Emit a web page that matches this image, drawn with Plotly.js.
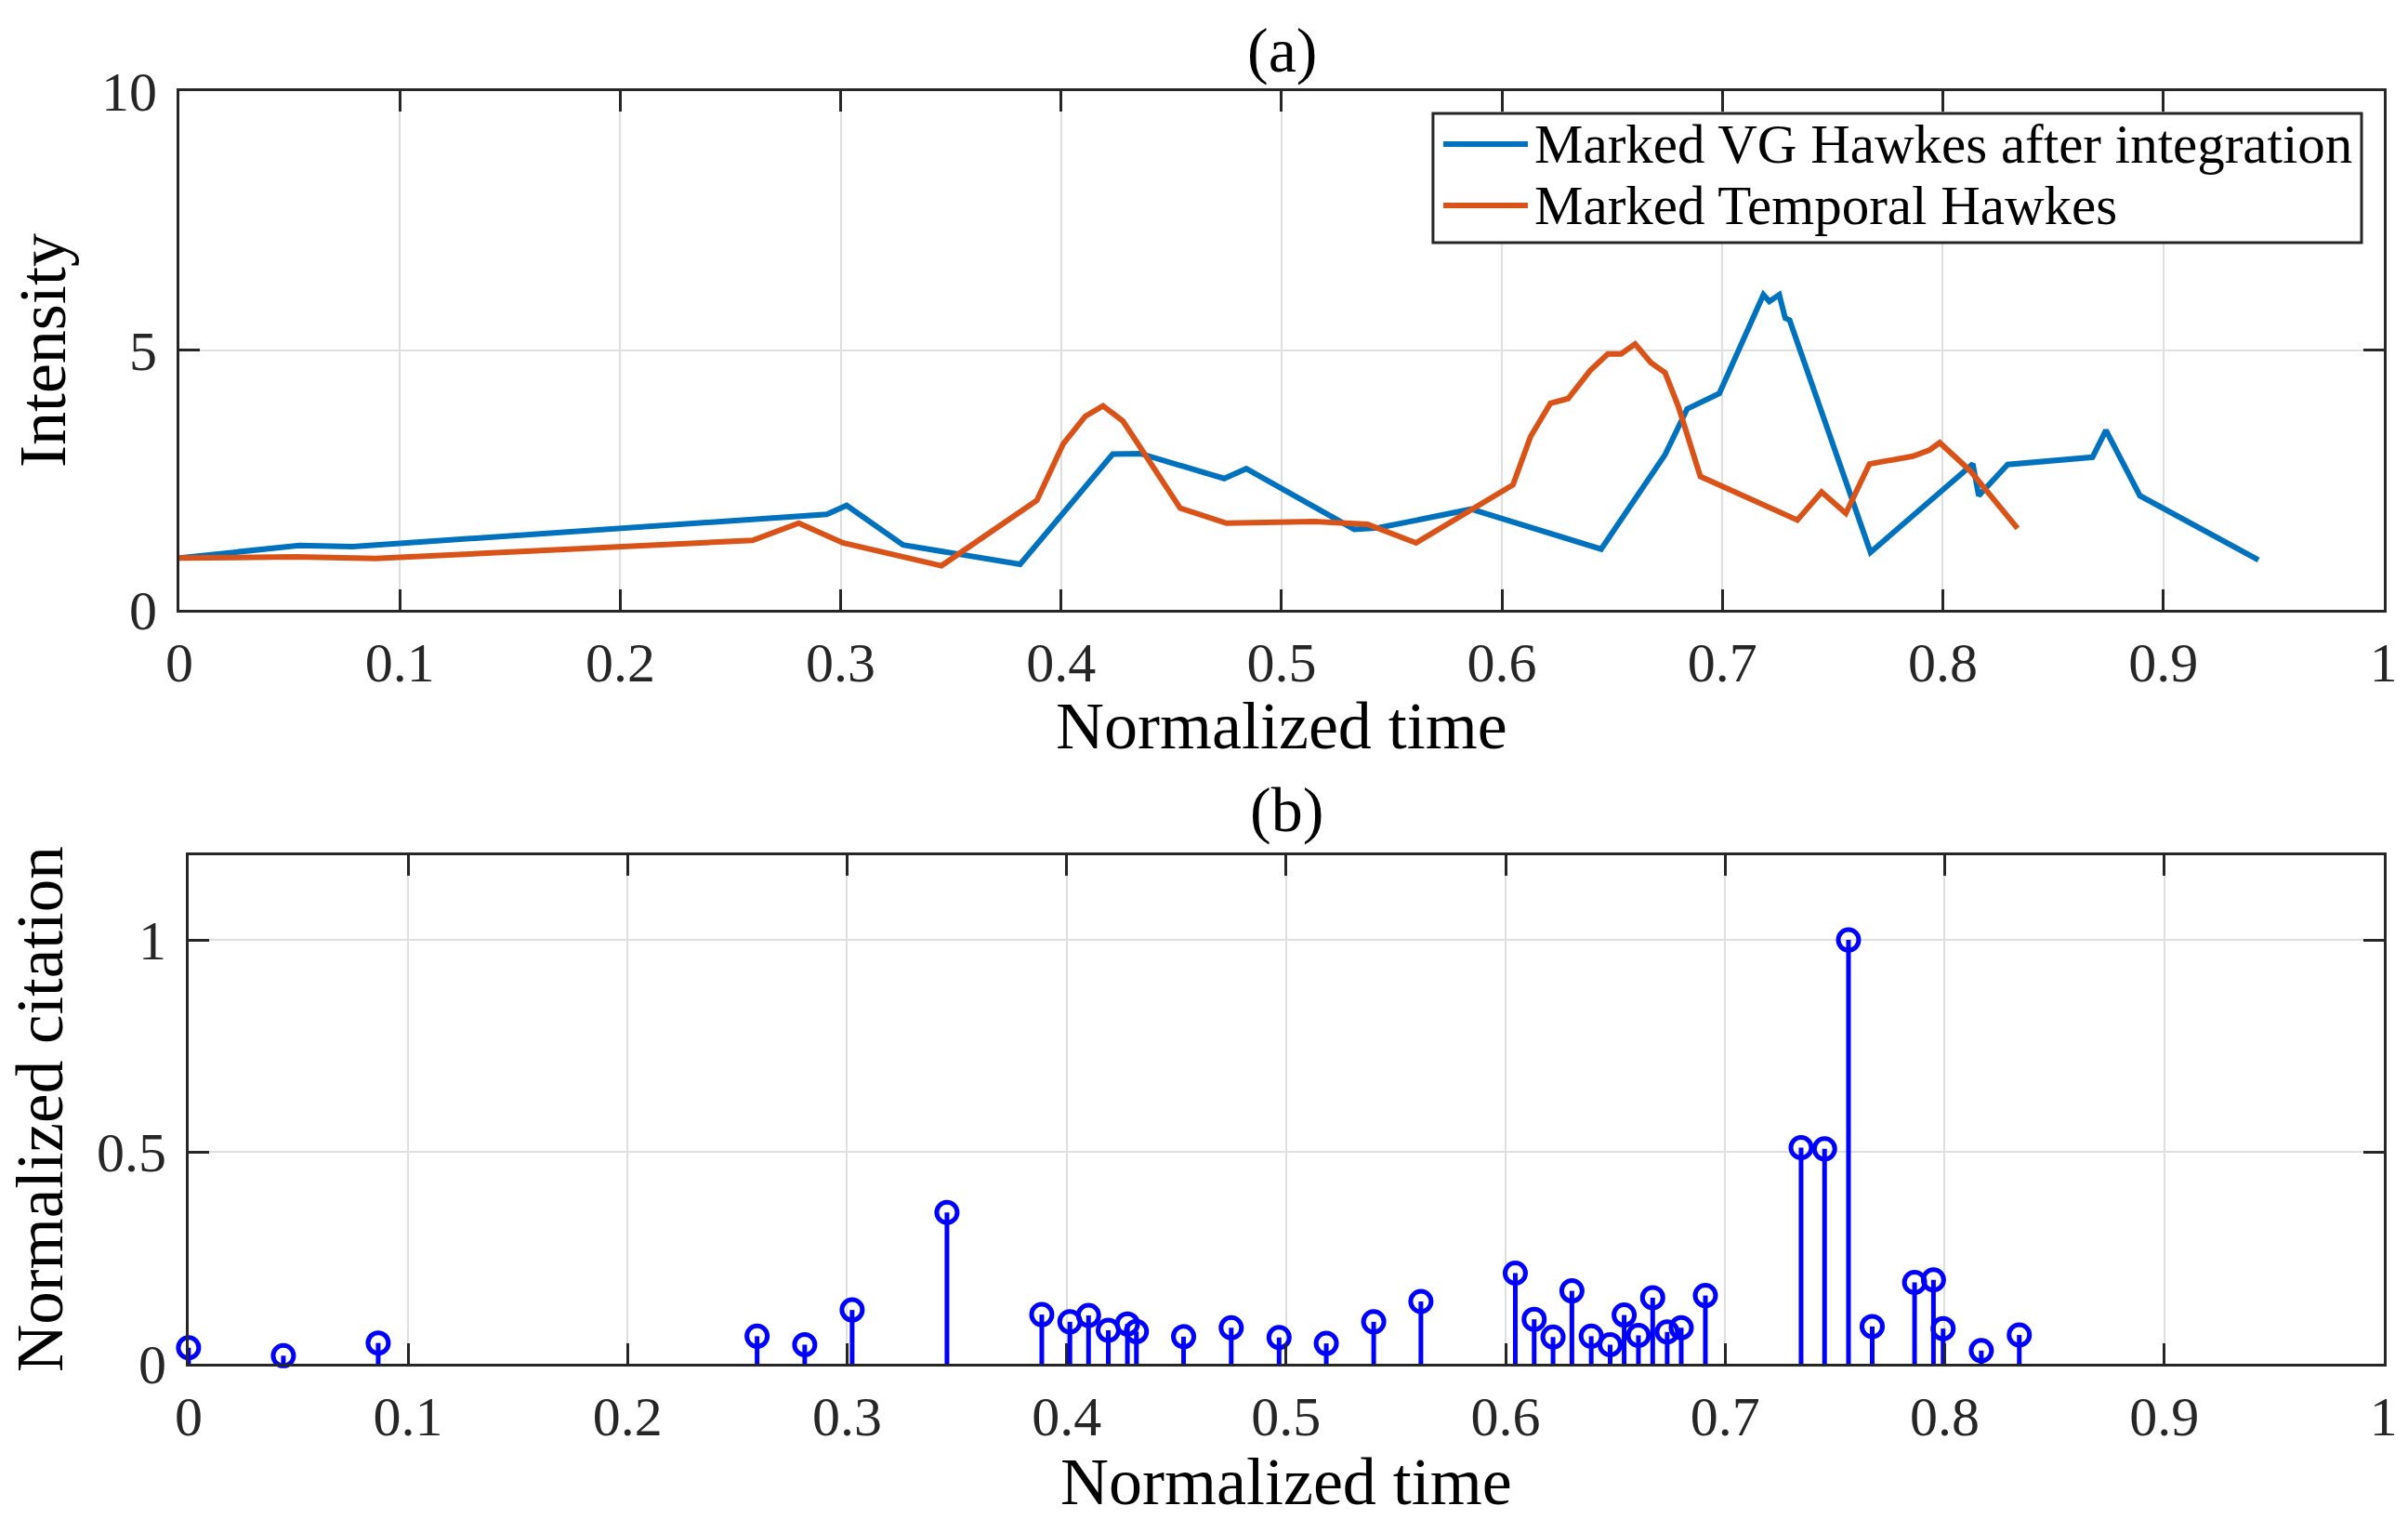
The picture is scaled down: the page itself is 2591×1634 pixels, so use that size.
<!DOCTYPE html>
<html>
<head>
    <meta charset='utf-8'>
    <title>Marked Hawkes intensity</title>
    <script src="https://cdn.plot.ly/plotly-3.0.1.min.js"></script>
    <style>
        body { margin: 0; background: #fff; }
        #chartDiv { width: 2591px; height: 1634px; }
    </style>
</head>
<body>
    <div id="chartDiv"></div>

    <script>
        // panel (a): intensity curves
        const vgTime = [0, 0.0544, 0.0786, 0.2937, 0.3027, 0.3283, 0.3814, 0.4205, 0.4234, 0.436, 0.474, 0.484,
            0.533, 0.544, 0.586, 0.645, 0.674, 0.684, 0.6986, 0.7186, 0.7213, 0.7258, 0.7285, 0.7305, 0.7672,
            0.8136, 0.8163, 0.8294, 0.8679, 0.874, 0.8894, 0.9432];
        const vgIntensity = [1.0, 1.24, 1.22, 1.84, 2.01, 1.25, 0.88, 2.82, 3.0, 3.01, 2.53, 2.72,
            1.55, 1.58, 1.94, 1.17, 2.99, 3.87, 4.17, 6.07, 5.94, 6.07, 5.62, 5.58, 1.11,
            2.81, 2.20, 2.80, 2.94, 3.46, 2.20, 0.96];

        const tempTime = [0, 0.053, 0.089, 0.26, 0.281, 0.301, 0.3457, 0.389, 0.401, 0.411, 0.419, 0.428, 0.437,
            0.454, 0.475, 0.515, 0.539, 0.561, 0.605, 0.613, 0.622, 0.630, 0.640, 0.648, 0.654, 0.6604, 0.6676,
            0.674, 0.680, 0.690, 0.734, 0.745, 0.756, 0.7667, 0.7864, 0.794, 0.7986, 0.8124, 0.8339];
        const tempIntensity = [1.0, 1.02, 0.99, 1.34, 1.67, 1.29, 0.85, 2.11, 3.2, 3.73, 3.93, 3.64, 3.06,
            1.96, 1.67, 1.70, 1.65, 1.29, 2.41, 3.34, 3.98, 4.07, 4.61, 4.93, 4.93, 5.12, 4.76,
            4.57, 3.92, 2.57, 1.73, 2.27, 1.86, 2.81, 2.96, 3.08, 3.22, 2.68, 1.57];

        // panel (b): normalized citations (stem plot)
        const citeTime = [0, 0.0432, 0.0864, 0.259, 0.2807, 0.3023, 0.3455, 0.3887, 0.4015, 0.410, 0.419, 0.4277,
            0.4318, 0.4533, 0.475, 0.4968, 0.5183, 0.5399, 0.5614, 0.6044, 0.6130, 0.6216, 0.6302, 0.639, 0.6476,
            0.654, 0.6605, 0.667, 0.6736, 0.680, 0.691, 0.7346, 0.7453, 0.7562, 0.767, 0.7863, 0.7949, 0.7993,
            0.8167, 0.834];
        const citeValue = [0.038, 0.019, 0.049, 0.065, 0.045, 0.127, 0.357, 0.116, 0.099, 0.114, 0.079, 0.094,
            0.076, 0.064, 0.085, 0.062, 0.048, 0.099, 0.147, 0.214, 0.105, 0.063, 0.172, 0.065, 0.045,
            0.115, 0.067, 0.156, 0.075, 0.085, 0.161, 0.51, 0.507, 1.0, 0.088, 0.192, 0.198, 0.083,
            0.031, 0.068];

        // ticks and labels
        const timeTicks = [0, 0.1, 0.2, 0.3, 0.4, 0.5, 0.6, 0.7, 0.8, 0.9, 1];
        const timeTickText = ['0', '0.1', '0.2', '0.3', '0.4', '0.5', '0.6', '0.7', '0.8', '0.9', '1'];
        const intensityTicks = [0, 5, 10];
        const citeTicks = [0, 0.5, 1];
        const citeTickText = ['0', '0.5', '1'];
        const seriesNames = ['Marked VG Hawkes after integration', 'Marked Temporal Hawkes'];
        const seriesColors = ['#0072BD', '#D95319'];

        const FONT = 'Liberation Serif, Times New Roman, serif';
        const AXIS_COLOR = '#262626';

        const stemX = [];
        const stemY = [];
        citeTime.forEach((t, i) => {
            stemX.push(t, t, null);
            stemY.push(0, citeValue[i], null);
        });

        const baseAxis = {
            showline: true,
            linecolor: AXIS_COLOR,
            linewidth: 3,
            mirror: 'ticks',
            ticks: 'inside',
            ticklen: 22,
            tickwidth: 3,
            tickcolor: AXIS_COLOR,
            showgrid: true,
            gridcolor: '#dfdfdf',
            gridwidth: 2,
            zeroline: false,
            automargin: false,
            tickfont: { family: FONT, size: 60, color: AXIS_COLOR },
        };

        const traces = [
            {
                x: vgTime, y: vgIntensity,
                type: 'scatter', mode: 'lines',
                line: { color: seriesColors[0], width: 6 },
                name: seriesNames[0],
                xaxis: 'x', yaxis: 'y',
            },
            {
                x: tempTime, y: tempIntensity,
                type: 'scatter', mode: 'lines',
                line: { color: seriesColors[1], width: 6 },
                name: seriesNames[1],
                xaxis: 'x', yaxis: 'y',
            },
            {
                x: stemX, y: stemY,
                type: 'scatter', mode: 'lines',
                line: { color: '#0000FF', width: 5 },
                xaxis: 'x2', yaxis: 'y2',
                cliponaxis: false,
            },
            {
                x: citeTime, y: citeValue,
                type: 'scatter', mode: 'markers',
                marker: { symbol: 'circle-open', size: 22, color: '#0000FF', line: { width: 5, color: '#0000FF' } },
                xaxis: 'x2', yaxis: 'y2',
                cliponaxis: false,
            },
        ];

        // legend box drawn by hand to match the original's compact box
        const legX0 = 0.5951, legX1 = 0.9807, legY0 = 0.8403, legY1 = 0.9253;
        const legRows = [0.9051, 0.8648];
        const shapes = [
            { type: 'rect', xref: 'paper', yref: 'paper', x0: legX0, x1: legX1, y0: legY0, y1: legY1,
              line: { color: AXIS_COLOR, width: 3 }, fillcolor: '#fff', layer: 'above' },
        ];
        const annotations = [];
        seriesNames.forEach((name, i) => {
            shapes.push({ type: 'line', xref: 'paper', yref: 'paper', x0: 0.5994, x1: 0.6345,
                y0: legRows[i], y1: legRows[i], line: { color: seriesColors[i], width: 6 }, layer: 'above' });
            annotations.push({ text: name, x: 0.6364, y: legRows[i], xref: 'paper', yref: 'paper',
                xanchor: 'left', yanchor: 'middle', showarrow: false,
                font: { family: FONT, size: 59, color: '#000' } });
        });

        const label = (text, x, y, size, angle) => ({
            text: text, x: x, y: y, xref: 'paper', yref: 'paper',
            xanchor: 'center', yanchor: 'middle', showarrow: false, textangle: angle || 0,
            font: { family: FONT, size: size, color: '#000' },
        });
        annotations.push(
            label('(a)', 0.5323, 0.967, 68),
            label('Normalized time', 0.5323, 0.522, 72),
            label('Intensity', 0.0178, 0.7693, 72, -90),
            label('(b)', 0.5342, 0.467, 68),
            label('Normalized time', 0.5342, 0.0245, 72),
            label('Normalized citation', 0.0168, 0.2696, 71, -90)
        );

        const layout = {
            width: 2591,
            height: 1634,
            margin: { l: 0, r: 0, t: 0, b: 0 },
            paper_bgcolor: '#fff',
            plot_bgcolor: '#fff',
            font: { family: FONT, color: '#000' },
            showlegend: false,
            xaxis: Object.assign({}, baseAxis, {
                domain: [0.0745, 0.9899], range: [0, 1],
                tickvals: timeTicks, ticktext: timeTickText,
                ticklabelstandoff: 2, anchor: 'y',
            }),
            yaxis: Object.assign({}, baseAxis, {
                domain: [0.5985, 0.9403], range: [0, 10],
                tickvals: intensityTicks,
                ticklabelstandoff: 9, anchor: 'x',
            }),
            xaxis2: Object.assign({}, baseAxis, {
                domain: [0.0783, 0.9899], range: [0, 1],
                tickvals: timeTicks, ticktext: timeTickText,
                ticklabelstandoff: 2, anchor: 'y2',
            }),
            yaxis2: Object.assign({}, baseAxis, {
                domain: [0.1022, 0.437], range: [0, 1.2],
                tickvals: citeTicks, ticktext: citeTickText,
                ticklabelstandoff: 9, anchor: 'x2',
            }),
            shapes: shapes,
            annotations: annotations,
        };

        Plotly.newPlot('chartDiv', traces, layout, { displayModeBar: false, staticPlot: true });
    </script>
</body>
</html>
